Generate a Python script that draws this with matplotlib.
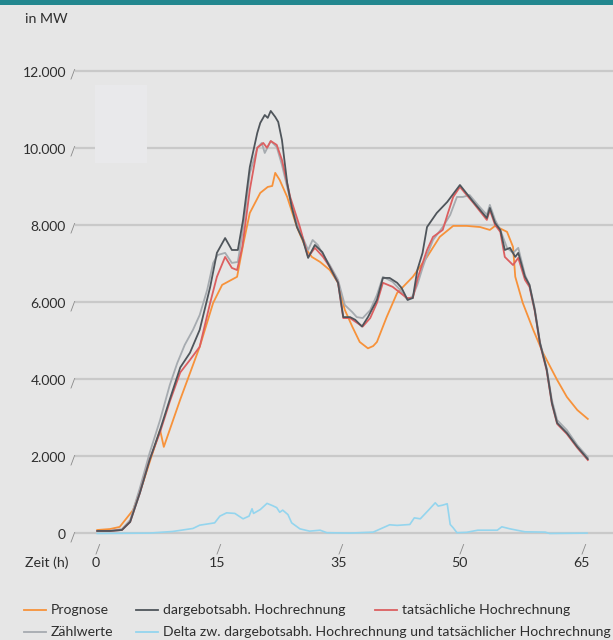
import numpy as np
import matplotlib
matplotlib.use("Agg")
import matplotlib.pyplot as plt
from matplotlib.lines import Line2D
from matplotlib.patches import Rectangle

plt.rcParams['font.family'] = ['Lato', 'DejaVu Sans']

# Zeitachse (h) und Leistung (MW)
t_prog = [0, 1.7, 3.0, 4.8, 6.1, 7.4, 8.4, 8.9, 11.1, 13.7, 15.5, 16.7, 18.7, 19.5, 20.4, 21.8, 22.8,
          23.4, 23.8, 24.4, 25.4, 26.7, 28.0, 28.7, 29.8, 31.1, 32.2, 33.1, 34.1, 35.1, 36.2, 36.9,
          37.4, 38.7, 40.1, 42.2, 44.1, 45.8, 47.6, 49.4, 51.2, 52.5, 53.2, 54.8, 55.6, 55.9, 56.9,
          58.3, 59.6, 61.5, 62.8, 64.2, 65.6]
prognose = [90, 115, 170, 610, 1310, 2085, 2685, 2245, 3475, 4840, 5980, 6445, 6655, 7480, 8310, 8830, 8985,
            9010, 9350, 9165, 8725, 7945, 7350, 7170, 7040, 6830, 6500, 5800, 5365, 4965, 4800, 4860,
            4965, 5610, 6235, 6655, 7170, 7690, 7975, 7975, 7945, 7870, 7975, 7820, 7430, 6655, 5980,
            5280, 4685, 3980, 3540, 3200, 2970]

t_darg = [0, 1.7, 3.3, 4.4, 5.7, 7.0, 8.4, 9.7, 11.1, 12.4, 13.7, 15.1, 16.0, 17.1, 18.0, 18.8, 19.5,
          20.4, 21.4, 21.8, 22.4, 22.8, 23.2, 23.8, 24.2, 24.7, 25.4, 26.0, 26.7, 27.5, 28.2, 29.1,
          30.1, 31.1, 32.2, 32.9, 33.8, 34.5, 35.4, 36.2, 37.4, 38.2, 39.1, 40.1, 40.7, 41.5, 42.2,
          42.8, 43.5, 44.1, 45.4, 46.8, 48.5, 50.3, 52.1, 52.5, 53.2, 53.9, 54.5, 55.2, 55.9, 56.3,
          57.2, 57.8, 58.5, 59.2, 60.1, 60.8, 61.5, 62.8, 64.2, 65.6]
dargebot = [65, 65, 90, 300, 1050, 1905, 2685, 3475, 4305, 4685, 5280, 6390, 7275, 7660, 7350, 7350, 8130,
            9500, 10385, 10645, 10850, 10775, 10955, 10800, 10670, 10200, 9090, 8465, 7945, 7610, 7145, 7480,
            7295, 6910, 6500, 5610, 5610, 5540, 5365, 5610, 6055, 6625, 6625, 6500, 6365, 6055, 6105,
            6830, 7275, 7945, 8310, 8595, 9035, 8595, 8180, 8440, 8050, 7870, 7350, 7405, 7170, 7275,
            6655, 6445, 5800, 4940, 4255, 3385, 2865, 2605, 2245, 1930]

t_tats = [0, 1.7, 3.3, 4.4, 5.7, 7.0, 8.4, 9.7, 11.1, 12.4, 13.7, 15.1, 16.0, 17.1, 18.0, 18.7, 19.4,
          20.4, 21.4, 22.2, 22.7, 23.2, 24.0, 24.7, 25.8, 27.1, 28.2, 29.1, 30.2, 31.1, 32.2, 32.9,
          33.8, 34.6, 35.5, 36.5, 37.4, 38.2, 39.5, 41.4, 42.2, 42.9, 44.1, 44.9, 46.2, 46.9, 47.6,
          48.5, 50.3, 52.1, 52.5, 53.2, 53.9, 54.5, 55.6, 56.3, 57.2, 57.8, 58.5, 59.2, 60.1, 60.8,
          61.5, 62.8, 64.2, 65.6]
tatsaechlich = [65, 65, 90, 300, 1050, 1905, 2630, 3420, 4175, 4500, 4840, 5980, 6655, 7170, 6885, 6830, 7430,
                8910, 10000, 10125, 10000, 10175, 10075, 9685, 8725, 7945, 7170, 7405, 7170, 6910, 6500, 5585,
                5585, 5480, 5365, 5585, 5980, 6500, 6395, 6105, 6105, 6655, 7350, 7690, 7870, 8310, 8725,
                8985, 8570, 8130, 8390, 8000, 7820, 7170, 6960, 7145, 6575, 6395, 5775, 4915, 4225, 3360,
                2840, 2580, 2220, 1905]

t_zaehl = [0, 1.7, 3.3, 4.4, 5.7, 7.0, 8.4, 9.7, 10.7, 11.7, 12.8, 13.7, 14.7, 15.5, 16.1, 17.1, 18.0,
           18.8, 19.5, 20.4, 21.4, 22.0, 22.4, 23.2, 24.0, 24.7, 25.8, 26.7, 27.5, 28.2, 28.8, 29.5,
           30.2, 31.1, 32.2, 33.1, 34.1, 34.7, 35.5, 36.5, 37.4, 38.2, 39.5, 40.5, 41.5, 42.2, 42.8,
           43.5, 44.1, 44.9, 46.2, 47.2, 48.1, 48.9, 49.8, 50.9, 52.1, 52.5, 53.2, 53.9, 54.8, 55.6,
           56.3, 57.2, 57.8, 58.5, 59.2, 60.1, 60.8, 61.5, 62.8, 64.2, 65.6]
zaehlwerte = [65, 65, 115, 350, 1180, 2085, 2940, 3850, 4420, 4890, 5280, 5665, 6315, 7015, 7220, 7275, 7015,
              7040, 7910, 9335, 10000, 10125, 9865, 10175, 10020, 9555, 8650, 8050, 7660, 7350, 7610, 7480,
              7220, 6960, 6575, 5925, 5740, 5610, 5585, 5790, 6185, 6655, 6525, 6315, 6055, 6160, 6445,
              6885, 7220, 7610, 7945, 8260, 8725, 8725, 8775, 8520, 8260, 8520, 8130, 7870, 7405, 7275,
              7405, 6705, 6445, 5850, 4965, 4290, 3460, 2940, 2680, 2290, 1980]

t_delta = [0, 7.0, 10.1, 12.8, 13.7, 15.7, 16.4, 17.3, 18.4, 19.5, 20.3, 20.7, 20.9, 21.8, 22.7, 23.4,
           24.0, 24.4, 24.8, 25.5, 26.0, 27.1, 28.4, 29.8, 30.7, 33.8, 36.9, 38.2, 39.1, 40.1, 41.8,
           42.4, 43.2, 44.3, 45.2, 45.6, 46.2, 46.8, 47.2, 47.6, 48.1, 49.4, 50.9, 53.5, 54.1, 55.2,
           56.1, 57.2, 59.9, 60.5, 65.5]
delta = [0, 10, 52, 130, 215, 275, 450, 535, 520, 380, 450, 640, 520, 620, 780, 725,
         670, 550, 605, 490, 275, 120, 60, 85, 20, 10, 35, 147, 225, 210, 233,
         405, 380, 605, 795, 710, 735, 770, 233, 147, 20, 30, 85, 85, 173, 120,
         85, 43, 35, 0, 10]

y_ticks = [0, 2000, 4000, 6000, 8000, 10000, 12000]
y_labels = ["0", "2.000", "4.000", "6.000", "8.000", "10.000", "12.000"]
x_labels = ["0", "15", "35", "50", "65"]

c_prog = "#f7923a"
c_darg = "#4f555b"
c_tats = "#dc5f60"
c_zaehl = "#a6abb0"
c_delta = "#94d5ee"
bg = "#e6e6e6"
txt = "#2e2e2e"

fig = plt.figure(figsize=(6.13, 6.40), dpi=100, facecolor=bg)
ax = fig.add_axes([0.1223, 0.1544, 0.8777, 0.7533])
ax.set_facecolor(bg)
ax.set_xlim(-2.98, 68.97)
ax.set_ylim(-200, 12300)
for s in ax.spines.values():
    s.set_visible(False)
ax.set_xticks([])
ax.set_yticks([])

for v in y_ticks:
    ax.axhline(v, color="#c9c9c9", lw=1.6, zorder=1)

ax.plot(t_delta, delta, color=c_delta, lw=1.2, zorder=2)
ax.plot(t_prog, prognose, color=c_prog, lw=1.3, zorder=3)
ax.plot(t_zaehl, zaehlwerte, color=c_zaehl, lw=1.3, zorder=4)
ax.plot(t_tats, tatsaechlich, color=c_tats, lw=1.3, zorder=5)
ax.plot(t_darg, dargebot, color=c_darg, lw=1.3, zorder=6)

# y labels with slash marks
for v, lab in zip(y_ticks, y_labels):
    ax.annotate(lab, xy=(0, v), xycoords=("axes fraction", "data"), xytext=(-9, -2),
                textcoords="offset pixels", ha="right", va="center", fontsize=10, color=txt)
    ax.annotate("/", xy=(0, v), xycoords=("axes fraction", "data"), xytext=(-3, -4),
                textcoords="offset pixels", ha="center", va="center", fontsize=9, color="#8a8a8a")

# x labels with slash marks
x_pos = np.linspace(0, 65, len(x_labels))
for xp, lab in zip(x_pos, x_labels):
    ax.annotate("/", xy=(xp, 0), xycoords=("data", "axes fraction"), xytext=(0, -8),
                textcoords="offset pixels", ha="center", va="center", fontsize=9, color="#8a8a8a")
    ax.annotate(lab, xy=(xp, 0), xycoords=("data", "axes fraction"), xytext=(-2, -22),
                textcoords="offset pixels", ha="center", va="center", fontsize=10.2, color=txt)

fig.text(25 / 613, 1 - 563 / 640, "Zeit (h)", ha="left", va="center", fontsize=10.2, color=txt)
fig.text(25 / 613, 1 - 19 / 640, "in MW", ha="left", va="center", fontsize=10.2, color=txt)

# top bar and light box
fig.add_artist(Rectangle((0, 1 - 5 / 640), 1, 5 / 640, transform=fig.transFigure,
                         facecolor="#22878f", edgecolor="none"))
fig.add_artist(Rectangle((95 / 613, 1 - 163 / 640), 52 / 613, 78 / 640, transform=fig.transFigure,
                         facecolor="#e9e9eb", edgecolor="none", zorder=0.5))

# legend
items = [
    (24, 610, c_prog, "Prognose"),
    (136, 610, c_darg, "dargebotsabh. Hochrechnung"),
    (375, 610, c_tats, "tatsächliche Hochrechnung"),
    (24, 632, c_zaehl, "Zählwerte"),
    (136, 632, c_delta, "Delta zw. dargebotsabh. Hochrechnung und tatsächlicher Hochrechnung"),
]
for x0, y0, c, lab in items:
    fy = 1 - y0 / 640
    fig.add_artist(Line2D([x0 / 613, (x0 + 22) / 613], [fy, fy], color=c, lw=1.3,
                          transform=fig.transFigure))
    fig.text((x0 + 27) / 613, fy, lab, ha="left", va="center", fontsize=10.1, color=txt)

fig.savefig("out.png", dpi=100, facecolor=bg)
